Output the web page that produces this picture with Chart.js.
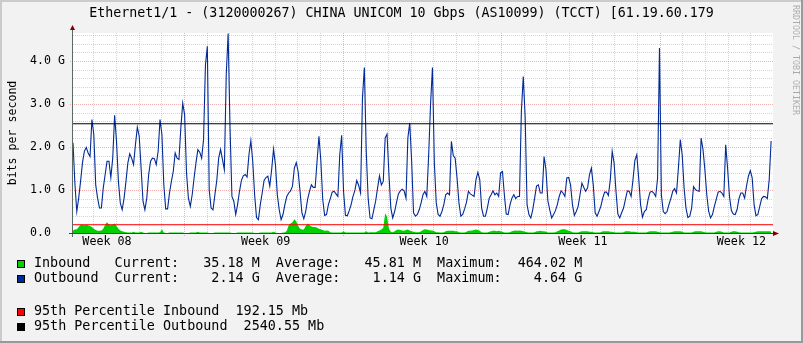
<!DOCTYPE html>
<html>
<head>
<meta charset="utf-8">
<script src="https://cdn.jsdelivr.net/npm/chart.js@4.4.1/dist/chart.umd.min.js"></script>
<style>
  html, body { margin: 0; padding: 0; background: #F2F2F2; }
  #wrap { width: 803px; height: 343px; }
  canvas { display: block; }
</style>
</head>
<body>
<div id="wrap"><canvas id="c" width="803" height="343"></canvas></div>
<script>
// ---- data (2-hour samples, values in Gbit/s) ----
const outbound = [
  2.10,1.15,0.50,0.81,1.20,1.63,1.90,1.99,1.86,1.78,
  2.64,2.29,1.12,0.81,0.58,0.58,1.05,1.36,1.67,1.67,
  1.29,1.74,2.74,2.13,1.20,0.70,0.54,0.81,1.20,1.63,
  1.84,1.74,1.59,2.05,2.46,2.25,1.51,0.74,0.54,0.81,
  1.36,1.67,1.74,1.73,1.59,1.90,2.64,2.29,1.12,0.56,
  0.56,0.93,1.20,1.43,1.86,1.74,1.71,2.44,3.02,2.75,
  1.40,0.81,0.62,0.89,1.28,1.63,1.94,1.88,1.74,2.17,
  3.90,4.34,1.00,0.58,0.54,0.89,1.22,1.74,1.94,1.71,
  1.47,3.68,4.64,2.44,0.85,0.74,0.43,0.66,0.97,1.22,
  1.33,1.36,1.30,1.82,2.15,1.67,0.89,0.36,0.31,0.66,
  0.93,1.22,1.29,1.32,1.09,1.47,1.95,1.59,0.89,0.54,
  0.31,0.43,0.66,0.85,0.93,0.98,1.09,1.51,1.64,1.43,
  0.97,0.47,0.33,0.50,0.78,0.97,1.12,1.06,1.06,1.67,
  2.25,1.68,0.78,0.41,0.43,0.66,0.80,0.95,0.97,0.91,
  0.85,1.82,2.27,0.97,0.41,0.40,0.52,0.66,0.85,0.99,
  1.22,1.11,0.93,3.14,3.85,1.90,0.81,0.35,0.33,0.54,
  0.75,1.05,1.33,1.12,1.20,2.21,2.30,1.36,0.58,0.35,
  0.50,0.71,0.91,0.98,1.02,0.98,0.81,2.21,2.56,1.67,
  0.47,0.39,0.43,0.54,0.70,0.89,0.97,0.85,1.82,3.00,
  3.85,1.63,0.70,0.43,0.39,0.50,0.66,0.89,0.93,0.89,
  2.13,1.80,1.74,1.28,0.70,0.39,0.43,0.56,0.72,0.97,
  0.91,0.88,0.85,1.24,1.41,1.24,0.58,0.39,0.39,0.58,
  0.81,0.89,0.98,0.89,0.93,0.85,1.40,1.43,0.89,0.44,
  0.43,0.66,0.81,0.89,0.80,0.85,0.85,2.83,3.64,2.70,
  0.66,0.43,0.35,0.54,0.81,1.09,1.12,0.93,0.93,1.78,
  1.47,0.75,0.54,0.35,0.43,0.52,0.66,0.85,0.98,0.93,
  0.85,1.28,1.29,1.12,0.66,0.41,0.50,0.62,0.89,1.16,
  1.06,0.97,1.05,1.36,1.51,1.12,0.47,0.39,0.50,0.62,
  0.81,0.95,0.95,0.87,1.24,1.90,1.63,0.97,0.44,0.35,
  0.47,0.58,0.78,0.98,0.97,0.85,1.24,1.69,1.82,1.28,
  0.66,0.37,0.50,0.54,0.78,0.95,0.97,0.93,0.85,1.28,
  4.30,0.89,0.50,0.45,0.50,0.66,0.80,0.97,1.03,0.93,
  1.51,2.17,1.82,1.05,0.58,0.36,0.39,0.58,1.08,1.01,
  0.98,0.97,2.21,1.94,1.47,0.89,0.50,0.35,0.43,0.62,
  0.78,0.95,0.97,0.93,0.85,2.05,1.50,0.85,0.52,0.44,
  0.43,0.54,0.80,0.93,0.93,0.81,1.09,1.32,1.45,1.28,
  0.66,0.40,0.43,0.62,0.80,0.85,0.84,0.80,1.24,2.14
];
const inbound = [
  0.06,0.08,0.09,0.14,0.19,0.19,0.18,0.19,0.18,0.16,
  0.14,0.10,0.07,0.05,0.05,0.06,0.10,0.20,0.25,0.20,
  0.18,0.20,0.22,0.16,0.10,0.06,0.04,0.03,0.02,0.01,
  0.01,0.01,0.03,0.01,0.01,0.01,0.03,0.01,0.00,0.00,
  0.01,0.01,0.01,0.01,0.01,0.01,0.02,0.09,0.01,0.00,
  0.00,0.01,0.01,0.01,0.01,0.01,0.01,0.01,0.01,0.00,
  0.00,0.00,0.01,0.01,0.01,0.01,0.03,0.01,0.01,0.01,
  0.01,0.01,0.00,0.00,0.00,0.01,0.01,0.01,0.01,0.01,
  0.01,0.01,0.01,0.01,0.00,0.00,0.00,0.01,0.01,0.01,
  0.01,0.01,0.01,0.01,0.01,0.01,0.00,0.00,0.00,0.01,
  0.01,0.01,0.01,0.01,0.01,0.01,0.03,0.01,0.00,0.00,
  0.00,0.01,0.01,0.05,0.18,0.22,0.25,0.32,0.27,0.17,
  0.10,0.08,0.08,0.16,0.22,0.18,0.15,0.14,0.14,0.12,
  0.10,0.09,0.07,0.05,0.06,0.05,0.02,0.01,0.01,0.01,
  0.01,0.01,0.01,0.04,0.01,0.01,0.01,0.01,0.01,0.01,
  0.01,0.01,0.01,0.01,0.01,0.04,0.01,0.02,0.02,0.02,
  0.02,0.04,0.06,0.08,0.12,0.46,0.38,0.10,0.03,0.02,
  0.04,0.07,0.08,0.07,0.06,0.05,0.07,0.08,0.06,0.04,
  0.03,0.02,0.02,0.02,0.04,0.07,0.09,0.08,0.07,0.06,
  0.06,0.04,0.02,0.02,0.01,0.01,0.02,0.04,0.05,0.05,
  0.05,0.05,0.04,0.04,0.02,0.01,0.01,0.01,0.03,0.05,
  0.05,0.06,0.07,0.08,0.07,0.05,0.02,0.01,0.01,0.01,
  0.03,0.04,0.05,0.05,0.04,0.05,0.04,0.03,0.01,0.01,
  0.01,0.02,0.04,0.05,0.06,0.05,0.06,0.05,0.04,0.03,
  0.02,0.01,0.01,0.01,0.02,0.04,0.04,0.05,0.04,0.04,
  0.03,0.01,0.01,0.01,0.01,0.02,0.04,0.06,0.08,0.09,
  0.09,0.07,0.05,0.04,0.02,0.01,0.01,0.01,0.03,0.04,
  0.04,0.04,0.04,0.03,0.03,0.02,0.01,0.01,0.01,0.02,
  0.04,0.04,0.04,0.04,0.03,0.03,0.02,0.01,0.01,0.01,
  0.01,0.02,0.04,0.04,0.04,0.03,0.03,0.03,0.02,0.01,
  0.01,0.01,0.01,0.01,0.03,0.04,0.04,0.04,0.04,0.03,
  0.02,0.01,0.01,0.01,0.01,0.01,0.02,0.03,0.04,0.04,
  0.04,0.04,0.03,0.01,0.01,0.01,0.01,0.01,0.03,0.04,
  0.04,0.04,0.04,0.03,0.02,0.01,0.01,0.01,0.01,0.01,
  0.03,0.04,0.04,0.03,0.01,0.01,0.01,0.01,0.03,0.04,
  0.04,0.03,0.02,0.01,0.01,0.01,0.01,0.01,0.01,0.01,
  0.02,0.03,0.04,0.04,0.04,0.04,0.04,0.04,0.04,0.035
];
const percentileIn = 0.19215;   // 192.15 Mb
const percentileOut = 2.54055;  // 2540.55 Mb
const yTickValues = [0, 1, 2, 3, 4];
const yTickLabels = ['0.0  ', '1.0 G', '2.0 G', '3.0 G', '4.0 G'];
const weekLabels = ['Week 08', 'Week 09', 'Week 10', 'Week 11', 'Week 12'];
const weekLabelPos = [17.97, 101.8, 185.6, 269.5, 353.3];   // in sample units
const titleText = 'Ethernet1/1 - (3120000267) CHINA UNICOM 10 Gbps (AS10099) (TCCT) [61.19.60.179';
const legendNames = ['Inbound ', 'Outbound'];
const legendCurrent = ['35.18 M', '2.14 G'];
const legendAverage = ['45.81 M', '1.14 G'];
const legendMaximum = ['464.02 M', '4.64 G'];
const percentileLabels = ['95th Percentile Inbound  192.15 Mb', '95th Percentile Outbound  2540.55 Mb'];

// ---- layout / style constants ----
const XMAX = 370;
const YMAX = 4.651;
const DAY = 11.976, FIRST_DAY = 10.73, N_DAYS = 30;
const MONO = "'DejaVu Sans Mono', monospace";
const C_IN = '#00CF00', C_OUT = '#002A97', C_P_IN = '#FF0000', C_P_OUT = '#000000';
const C_GRID = 'rgba(143,143,143,0.38)', C_MGRID = 'rgba(222,48,48,0.38)';

const inPts = inbound.map((v, i) => ({ x: i, y: v }));
const outPts = outbound.map((v, i) => ({ x: i, y: v }));

const pad = (s, n) => (' '.repeat(n) + s).slice(-n);

const bgPlugin = {
  id: 'bg',
  beforeDraw(chart) {
    const c = chart.ctx, a = chart.chartArea;
    c.save();
    c.fillStyle = '#F2F2F2';
    c.fillRect(0, 0, chart.width, chart.height);
    c.fillStyle = '#CBCBCB';
    c.fillRect(0, 0, chart.width, 2);
    c.fillRect(0, 0, 2, chart.height);
    c.fillStyle = '#999999';
    c.fillRect(0, chart.height - 2, chart.width, 2);
    c.fillRect(chart.width - 2, 0, 2, chart.height);
    c.fillStyle = '#FFFFFF';
    c.fillRect(a.left, a.top, a.right - a.left, a.bottom - a.top);
    c.restore();
  }
};

const gridPlugin = {
  id: 'rrdgrid',
  beforeDatasetsDraw(chart) {
    const c = chart.ctx, a = chart.chartArea;
    const xs = chart.scales.x, ys = chart.scales.y;
    c.save();
    c.lineWidth = 1;
    c.setLineDash([1, 1]);
    for (let k = 1; k * 0.2 < YMAX; k++) {
      const v = k * 0.2;
      const major = (k % 5 === 0);
      const py = Math.round(ys.getPixelForValue(v)) + 0.5;
      c.strokeStyle = major ? C_MGRID : C_GRID;
      c.beginPath();
      c.moveTo(major ? a.left - 3 : a.left, py);
      c.lineTo(a.right, py);
      c.stroke();
    }
    for (let m = 0; m < N_DAYS; m++) {
      const u = FIRST_DAY + m * DAY;
      if (u > XMAX) break;
      const major = (m % 7 === 4);
      const px = Math.round(xs.getPixelForValue(u)) + 0.5;
      c.strokeStyle = major ? C_MGRID : C_GRID;
      c.beginPath();
      c.moveTo(px, a.top);
      c.lineTo(px, major ? a.bottom + 3 : a.bottom);
      c.stroke();
    }
    c.restore();
  }
};

const decorPlugin = {
  id: 'decor',
  afterDraw(chart) {
    const c = chart.ctx, a = chart.chartArea;
    c.save();
    c.strokeStyle = '#5a6b66';
    c.lineWidth = 1;
    c.setLineDash([]);
    c.beginPath();
    c.moveTo(a.left - 0.5, a.bottom + 4);
    c.lineTo(a.left - 0.5, a.top - 4);
    c.stroke();
    c.strokeStyle = '#2C4D43';
    c.beginPath();
    c.moveTo(a.left - 4, a.bottom + 0.5);
    c.lineTo(a.right + 3, a.bottom + 0.5);
    c.stroke();
    c.fillStyle = '#7F0000';
    c.beginPath();
    c.moveTo(a.left - 3, a.top - 3);
    c.lineTo(a.left + 2, a.top - 3);
    c.lineTo(a.left - 0.5, a.top - 8);
    c.closePath();
    c.fill();
    c.beginPath();
    c.moveTo(a.right, a.bottom - 2);
    c.lineTo(a.right, a.bottom + 3);
    c.lineTo(a.right + 6, a.bottom + 0.5);
    c.closePath();
    c.fill();

    c.fillStyle = '#000';
    c.font = '13.3px ' + MONO;
    c.textAlign = 'center';
    c.textBaseline = 'middle';
    c.fillText(titleText, chart.width / 2, 14);

    c.save();
    c.font = '11.6px ' + MONO;
    c.translate(13, (a.top + a.bottom) / 2);
    c.rotate(-Math.PI / 2);
    c.textAlign = 'center';
    c.textBaseline = 'middle';
    c.fillText('bits per second', 0, 0);
    c.restore();

    c.save();
    c.font = '8.3px ' + MONO;
    c.fillStyle = 'rgba(0,0,0,0.3)';
    c.translate(chart.width - 4, 5);
    c.rotate(Math.PI / 2);
    c.textAlign = 'left';
    c.textBaseline = 'top';
    c.fillText('RRDTOOL / TOBI OETIKER', 0, 0);
    c.restore();

    c.font = '13.4px ' + MONO;
    c.textAlign = 'left';
    c.textBaseline = 'middle';
    const rows = [264, 279];
    const cols = [C_IN, C_OUT];
    for (let i = 0; i < 2; i++) {
      const txt = legendNames[i] + '  Current:' + pad(legendCurrent[i], 10) +
        '  Average:' + pad(legendAverage[i], 10) + '  Maximum:' + pad(legendMaximum[i], 10);
      drawBox(c, cols[i], rows[i]);
      c.fillStyle = '#000';
      c.fillText(txt, 34, rows[i]);
    }
    const prow = [312, 327];
    const pcol = [C_P_IN, C_P_OUT];
    for (let i = 0; i < 2; i++) {
      drawBox(c, pcol[i], prow[i]);
      c.fillStyle = '#000';
      c.fillText(percentileLabels[i], 34, prow[i]);
    }
    c.restore();
  }
};

function drawBox(c, color, cy) {
  const y0 = Math.round(cy - 4);
  c.fillStyle = color;
  c.fillRect(17, y0, 8, 8);
  c.strokeStyle = '#000';
  c.lineWidth = 1;
  c.strokeRect(17.5, y0 + 0.5, 7, 7);
}

new Chart(document.getElementById('c'), {
  type: 'line',
  data: {
    datasets: [
      { label: '95th Percentile Inbound', data: [{ x: 0, y: percentileIn }, { x: XMAX, y: percentileIn }],
        borderColor: C_P_IN, borderWidth: 1, pointRadius: 0, fill: false, order: 0 },
      { label: '95th Percentile Outbound', data: [{ x: 0, y: percentileOut }, { x: XMAX, y: percentileOut }],
        borderColor: C_P_OUT, borderWidth: 1, pointRadius: 0, fill: false, order: 0 },
      { label: 'Outbound', data: outPts, borderColor: C_OUT, borderWidth: 1.1, pointRadius: 0,
        fill: false, tension: 0, order: 1 },
      { label: 'Inbound', data: inPts, borderColor: C_IN, backgroundColor: C_IN, borderWidth: 0,
        pointRadius: 0, fill: 'origin', tension: 0, order: 2 }
    ]
  },
  options: {
    responsive: false,
    animation: false,
    devicePixelRatio: 1,
    layout: { padding: { top: 33, right: 30, left: 0, bottom: 0 } },
    plugins: { legend: { display: false }, tooltip: { enabled: false }, title: { display: false } },
    scales: {
      x: {
        type: 'linear', min: 0, max: XMAX,
        grid: { display: false, drawTicks: false },
        border: { display: false },
        afterBuildTicks: s => { s.ticks = weekLabelPos.map(v => ({ value: v })); },
        afterFit: s => { s.height = 110; },
        ticks: {
          autoSkip: false, maxRotation: 0, minRotation: 0, padding: 2, color: '#000',
          font: { family: MONO, size: 11.7 },
          callback: (v, i) => weekLabels[i]
        }
      },
      y: {
        type: 'linear', min: 0, max: YMAX,
        grid: { display: false, drawTicks: false },
        border: { display: false },
        afterBuildTicks: s => { s.ticks = yTickValues.map(v => ({ value: v })); },
        afterFit: s => { s.width = 73; },
        ticks: {
          padding: 8, color: '#000',
          font: { family: MONO, size: 11.6 },
          callback: (v, i) => yTickLabels[i]
        }
      }
    }
  },
  plugins: [bgPlugin, gridPlugin, decorPlugin]
});
</script>
</body>
</html>
